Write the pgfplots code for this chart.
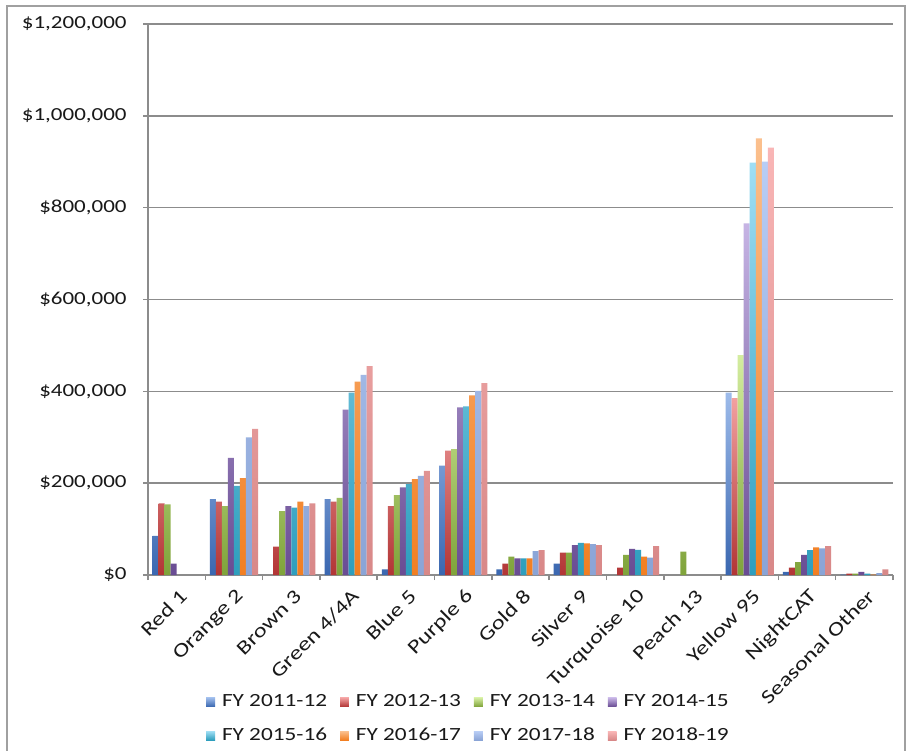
\documentclass[border=0pt]{standalone}
\usepackage{pgfplots}
\pgfplotsset{compat=1.18}
\usepackage{pgfplotstable}
\usepackage{fontspec}
\setmainfont{Carlito}[FakeStretch=1.25]

% gradient end colours for the eight fiscal-year series
\definecolor{c1t}{HTML}{9DBBEA}\definecolor{c1b}{HTML}{3A67B0}
\definecolor{c2t}{HTML}{F2A0A0}\definecolor{c2b}{HTML}{B23535}
\definecolor{c3t}{HTML}{D4EDA0}\definecolor{c3b}{HTML}{7FA33A}
\definecolor{c4t}{HTML}{C6B4E4}\definecolor{c4b}{HTML}{694C93}
\definecolor{c5t}{HTML}{9FDEF4}\definecolor{c5b}{HTML}{2E9EBD}
\definecolor{c6t}{HTML}{FBC08E}\definecolor{c6b}{HTML}{F27F22}
\definecolor{c7t}{HTML}{B8CDF5}\definecolor{c7b}{HTML}{8AA4D6}
\definecolor{c8t}{HTML}{F9B6B6}\definecolor{c8b}{HTML}{D88888}
\definecolor{gridgray}{HTML}{8C8C8C}
\definecolor{framegray}{HTML}{A0A0A0}

% revenue by route, one column per fiscal year (nan = no service)
\pgfplotstableread{
x  a      b      c      d      e      f      g      h
0  85000  156000 154000 25000  nan    nan    nan    nan
1  165000 160000 150000 255000 194000 211000 300000 318000
2  nan    62000  139000 150000 147000 160000 150000 156000
3  165000 160000 168000 360000 397000 421000 436000 455000
4  12000  150000 174000 191000 198000 209000 216000 227000
5  238000 271000 274000 365000 367000 391000 401000 418000
6  12000  25000  40000  36000  36000  36000  52000  54000
7  25000  49000  49000  65000  70000  69000  67000  65000
8  nan    16000  44000  57000  55000  40000  38000  63000
9  nan    nan    51000  nan    nan    nan    nan    nan
10 397000 385000 479000 766000 898000 951000 900000 931000
11 7000   16000  28000  44000  54000  60000  58000  63000
12 1000   3000   3000   7000   3000   1000   4000   12000
}\routedata

\begin{document}
\begin{tikzpicture}
\clip (0pt,0pt) rectangle (454.5pt,375pt);
\fill[white] (0pt,0pt) rectangle (454.5pt,375pt);
\draw[framegray, line width=0.7pt] (3.5pt,-5pt) rectangle (452.5pt,372pt);
\begin{axis}[
  at={(74pt,87.5pt)}, anchor=south west,
  scale only axis, width=372.5pt, height=275.5pt,
  ybar=0pt, bar width=0.105,
  xmin=-0.5, xmax=12.5, ymin=0, ymax=1200000,
  axis x line*=bottom, axis y line*=left,
  axis line style={draw=gridgray, line width=0.75pt, -},
  ymajorgrids, major grid style={draw=gridgray, line width=0.75pt},
  tick align=outside,
  major tick length=2.5pt, minor tick length=2.5pt,
  ytick={0,200000,400000,600000,800000,1000000,1200000},
  yticklabels={{\$0},{\$200,000},{\$400,000},{\$600,000},{\$800,000},{\$1,000,000},{\$1,200,000}},
  scaled y ticks=false,
  ytick style={draw=gridgray, line width=0.75pt},
  xtick={0,1,2,3,4,5,6,7,8,9,10,11,12},
  xticklabels={Red 1, Orange 2, Brown 3, Green 4/4A, Blue 5, Purple 6, Gold 8, Silver 9, Turquoise 10, Peach 13, Yellow 95, NightCAT, Seasonal Other},
  minor xtick={-0.5,0.5,...,12.5},
  major x tick style={draw=none},
  minor x tick style={draw=gridgray, line width=0.75pt},
  tick label style={font=\fontsize{9.2}{11}\selectfont, text=black!90},
  yticklabel style={anchor=east, inner sep=0pt, xshift=-8pt},
  xticklabel style={font=\fontsize{9.8}{11}\selectfont, inner sep=0pt,
    xshift=3.5pt, yshift=-6.5pt, rotate=45, anchor=east},
  legend columns=4,
  legend cell align=left,
  legend style={at={(0.4295,-0.2615)}, anchor=center, draw=none, fill=none,
    font=\fontsize{9.3}{11}\selectfont, text=black!90, row sep=8pt,
    nodes={inner sep=0.5pt},
    /tikz/every odd column/.append style={column sep=3pt},
    /tikz/every even column/.append style={column sep=6pt}},
  legend image code/.code={\path[#1] (0pt,-2.2pt) rectangle (4.4pt,2.2pt);},
]
\addplot[draw=none, top color=c1t, bottom color=c1b] table[x=x, y=a]{\routedata};
\addplot[draw=none, top color=c2t, bottom color=c2b] table[x=x, y=b]{\routedata};
\addplot[draw=none, top color=c3t, bottom color=c3b] table[x=x, y=c]{\routedata};
\addplot[draw=none, top color=c4t, bottom color=c4b] table[x=x, y=d]{\routedata};
\addplot[draw=none, top color=c5t, bottom color=c5b] table[x=x, y=e]{\routedata};
\addplot[draw=none, top color=c6t, bottom color=c6b] table[x=x, y=f]{\routedata};
\addplot[draw=none, top color=c7t, bottom color=c7b] table[x=x, y=g]{\routedata};
\addplot[draw=none, top color=c8t, bottom color=c8b] table[x=x, y=h]{\routedata};
\legend{FY 2011-12, FY 2012-13, FY 2013-14, FY 2014-15, FY 2015-16, FY 2016-17, FY 2017-18, FY 2018-19}
\end{axis}
\end{tikzpicture}
\end{document}
